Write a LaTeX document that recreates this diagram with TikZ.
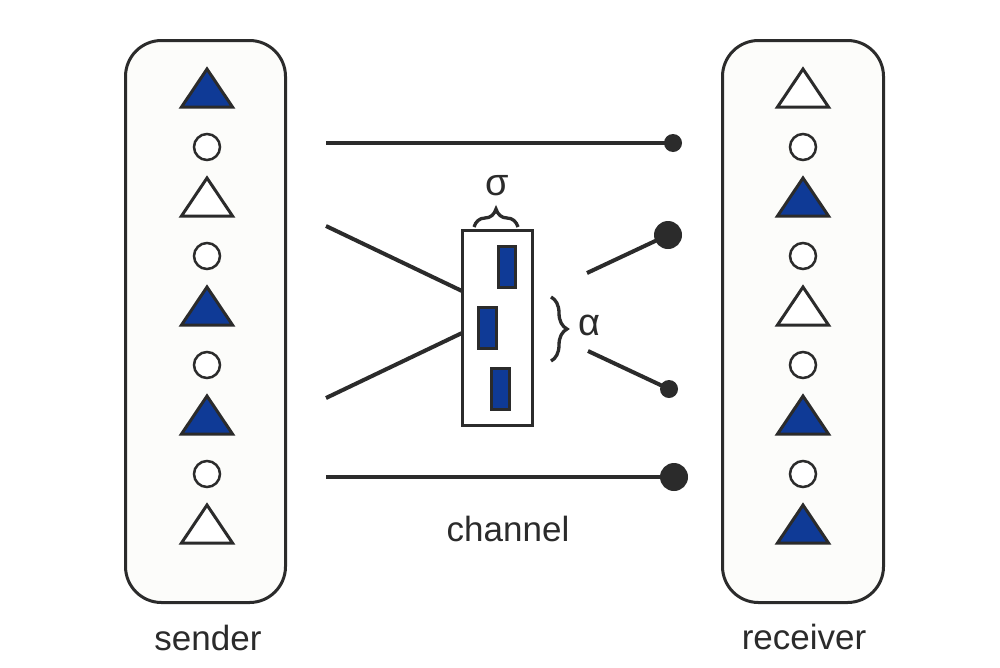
\documentclass[tikz,border=0pt]{standalone}
\usepackage{fontspec}
\setmainfont{Liberation Sans}
\usetikzlibrary{decorations.pathreplacing}
\definecolor{ink}{HTML}{2B2B2B}
\definecolor{tblue}{HTML}{0F3A96}
\definecolor{boxfill}{HTML}{FCFCFA}
\begin{document}
\begin{tikzpicture}[x=1pt,y=-1pt,
  panel/.style={draw=ink, line width=3pt, fill=boxfill, rounded corners=36pt, inner sep=0pt},
  wire/.style={draw=ink, line width=4pt},
  tri/.style={draw=ink, line width=3pt, line join=miter},
  filltri/.style={tri, fill=tblue},
  opentri/.style={tri, fill=white},
  dotsmall/.style={circle, fill=ink, inner sep=0pt, minimum size=18pt},
  dotbig/.style={circle, fill=ink, inner sep=0pt, minimum size=28pt},
  ring/.style={circle, draw=ink, line width=2.5pt, fill=white, minimum size=26pt, inner sep=0pt},
  bar/.style={draw=ink, line width=2.6pt, fill=tblue, minimum width=17.5pt, minimum height=41.5pt, inner sep=0pt},
  chan/.style={draw=ink, line width=3pt, fill=white, minimum width=70pt, minimum height=195pt, inner sep=0pt},
  lab/.style={font=\fontsize{35}{40}\selectfont, text=ink, inner sep=0pt, anchor=base},
  greek/.style={font=\fontsize{38}{42}\selectfont, text=ink, inner sep=0pt},
  brc/.style={draw=ink, line width=3.3pt, decorate}
]
\useasboundingbox (0,0) rectangle (1000,667);
\fill[white] (0,0) rectangle (1000,667);

% panels
\node[panel, minimum width=160pt, minimum height=562pt] (sender) at (205.5,321.5) {};
\node[panel, minimum width=161pt, minimum height=562pt] (receiver) at (803,321.5) {};

% sender items
\foreach \cy/\st in {88/filltri,197/opentri,306/filltri,415/filltri,524/opentri}
  \path[\st] (207-25.5,\cy+19) -- (207,\cy-19) -- (207+25.5,\cy+19) -- cycle;
\foreach \cy [count=\i] in {147,256,365,474}
  \node[ring] (sc\i) at (207,\cy) {};

% receiver items
\foreach \cy/\st in {88/opentri,197/filltri,306/opentri,415/filltri,524/filltri}
  \path[\st] (803-25.5,\cy+19) -- (803,\cy-19) -- (803+25.5,\cy+19) -- cycle;
\foreach \cy [count=\i] in {147,256,365,474}
  \node[ring] (rc\i) at (803,\cy) {};

% channel
\node[chan] (ch) at (497.5,328) {};
\node[bar] (b1) at (507,267) {};
\node[bar] (b2) at (487.5,328) {};
\node[bar] (b3) at (500.5,389) {};

% end dots
\node[dotsmall] (d1) at (673,143) {};
\node[dotbig] (d2) at (668,235) {};
\node[dotsmall] (d3) at (669,389) {};
\node[dotbig] (d4) at (674,477) {};

% connector ends
\coordinate (s1) at (326,143);
\coordinate (s2) at (326,226);
\coordinate (s3) at (326,398);
\coordinate (s4) at (326,477);
\coordinate (c1) at (462,291);
\coordinate (c2) at (462,333);
\coordinate (r1) at (587,273);
\coordinate (r2) at (588,351);

\draw[wire] (s1) -- (d1.center);
\draw[wire] (s2) -- (c1);
\draw[wire] (s3) -- (c2);
\draw[wire] (r1) -- (d2.center);
\draw[wire] (r2) -- (d3.center);
\draw[wire] (s4) -- (d4.center);

% braces
\draw[brc, decoration={brace, amplitude=18pt}] (474,227) -- (518,227);
\draw[brc, decoration={brace, amplitude=16pt}] (551,297) -- (551,361);
\node[greek] (sigma) at (497,186) {σ};
\node[greek] (alpha) at (589,325) {α};

% labels
\node[lab] (lsend) at (208,650) {sender};
\node[lab] (lchan) at (508,541) {channel};
\node[lab] (lrecv) at (804,649) {receiver};
\end{tikzpicture}
\end{document}
